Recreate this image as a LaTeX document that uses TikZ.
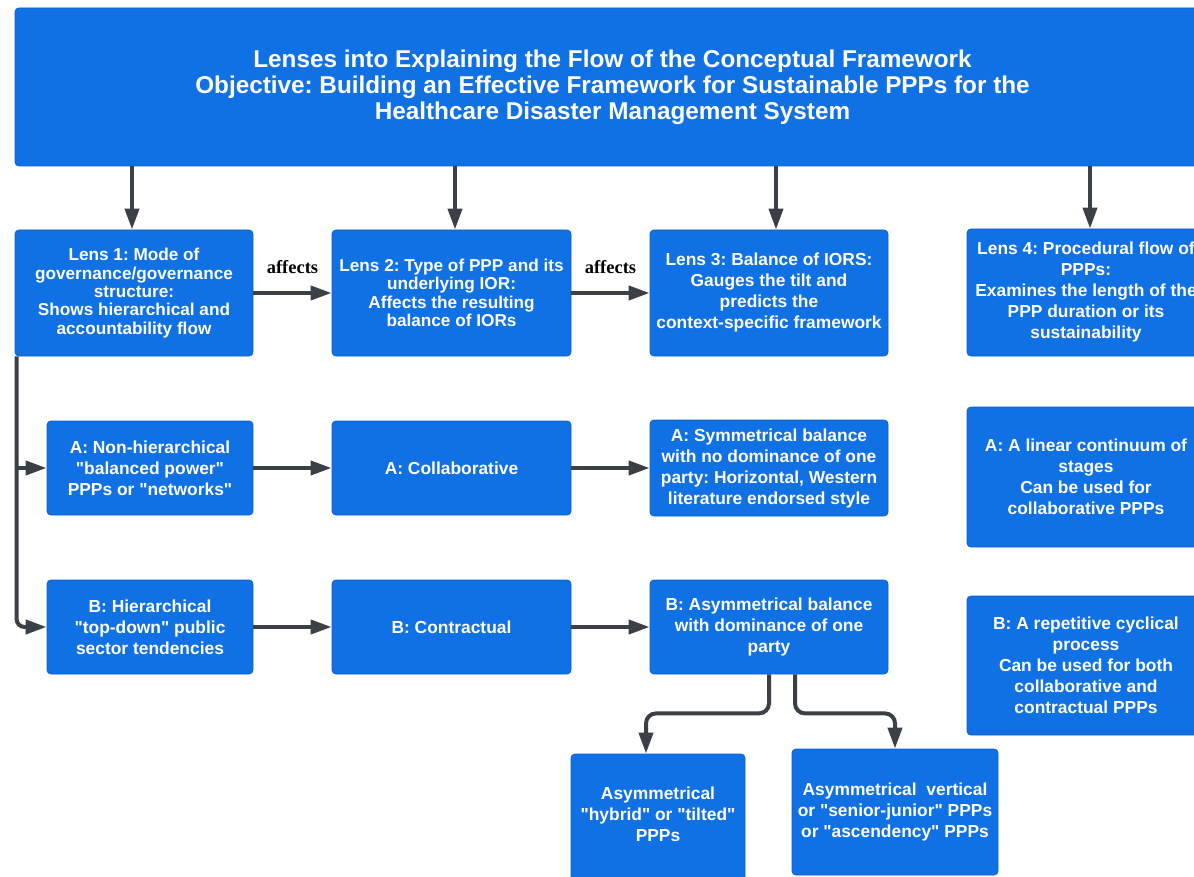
\documentclass[tikz,border=0pt]{standalone}
\usepackage{fontspec}
\setmainfont{Liberation Sans}[Ligatures=TeXOff]
\newfontfamily\affectsfont{Liberation Serif}
\usetikzlibrary{calc,arrows.meta}
\definecolor{boxblue}{HTML}{1071E5}
\definecolor{boxedge}{HTML}{0D5EC4}
\definecolor{linkgrey}{HTML}{3B3F46}
\frenchspacing
\tikzset{
  box/.style={draw=boxedge, line width=0.8pt, fill=boxblue, rounded corners=4pt,
    text=white, align=center, inner sep=2pt,
    font=\frenchspacing\bfseries\fontsize{17.4}{21}\selectfont},
  tightbox/.style={box, font=\frenchspacing\bfseries\fontsize{17.2}{18.4}\selectfont},
  titlebox/.style={box, font=\frenchspacing\bfseries\fontsize{24.3}{26}\selectfont},
  conn/.style={draw=linkgrey, line width=4pt,
    -{Triangle[length=21pt,width=14pt]}},
  affectslabel/.style={font=\affectsfont\bfseries\fontsize{18.5}{20}\selectfont,
    text=black, inner sep=0pt}
}
\begin{document}
\begin{tikzpicture}[x=1pt,y=-1pt]
\useasboundingbox (0,0) rectangle (1194,877);
\clip (0,0) rectangle (1194,877);
\fill[white] (0,0) rectangle (1194,877);

% title banner
\node[titlebox, minimum width=1195pt, minimum height=158pt] (T) at (612.5,87)
  {Lenses into Explaining the Flow of the Conceptual Framework\\
   Objective: Building an Effective Framework for Sustainable PPPs for the\\
   Healthcare Disaster Management System};

% the four lenses
\node[tightbox, minimum width=238pt, minimum height=126pt] (L1) at (134,293)
  {Lens 1: Mode of\\governance/governance\\structure:\\Shows hierarchical and\\accountability flow};
\node[tightbox, minimum width=239pt, minimum height=126pt] (L2) at (451.5,293)
  {Lens 2: Type of PPP and its\\underlying IOR:\\Affects the resulting\\balance of IORs};
\node[box, minimum width=238pt, minimum height=126pt] (L3) at (769,293)
  {Lens 3: Balance of IORS:\\Gauges the tilt and\\predicts the\\context-specific framework};
\node[box, minimum width=238pt, minimum height=127pt] (L4) at (1086,292.5)
  {Lens 4: Procedural flow of\\PPPs:\\Examines the length of the\\PPP duration or its\\sustainability};

% row A
\node[box, minimum width=206pt, minimum height=94pt] (A1) at (150,468)
  {A: Non-hierarchical\\"balanced power"\\PPPs or "networks"};
\node[box, minimum width=239pt, minimum height=94pt] (A2) at (451.5,468)
  {A: Collaborative};
\node[box, minimum width=238pt, minimum height=96pt] (A3) at (769,468)
  {A: Symmetrical balance\\with no dominance of one\\party: Horizontal, Western\\literature endorsed style};
\node[box, minimum width=238pt, minimum height=140pt] (A4) at (1086,477)
  {A: A linear continuum of\\stages\\Can be used for\\collaborative PPPs};

% row B
\node[box, minimum width=206pt, minimum height=94pt] (B1) at (150,627)
  {B: Hierarchical\\"top-down" public\\sector tendencies};
\node[box, minimum width=239pt, minimum height=94pt] (B2) at (451.5,627)
  {B: Contractual};
\node[box, minimum width=238pt, minimum height=94pt] (B3) at (769,627)
  {B: Asymmetrical balance\\with dominance of one\\party};
\node[box, minimum width=238pt, minimum height=139pt] (B4) at (1086,665.5)
  {B: A repetitive cyclical\\process\\Can be used for both\\collaborative and\\contractual PPPs};

% asymmetrical variants
\node[box, minimum width=174pt, minimum height=128pt] (C1) at (658,818)
  {Asymmetrical\\"hybrid" or "tilted"\\PPPs\\[-13pt]\mbox{}};
\node[box, minimum width=206pt, minimum height=126pt] (C2) at (895,812)
  {Asymmetrical\ \ vertical\\or "senior-junior" PPPs\\or "ascendency" PPPs};

% banner to lenses
\coordinate (t1) at ($(L1.north)+(-2,0)$);
\coordinate (t2) at ($(L2.north)+(3.5,0)$);
\coordinate (t3) at ($(L3.north)+(7,0)$);
\coordinate (t4) at ($(L4.north)+(4,0)$);
\foreach \k in {1,...,4} { \draw[conn] (t\k |- T.south) -- (t\k); }

% lens chain
\draw[conn] (L1.east) -- node[affectslabel, midway, yshift=26pt]{affects} (L2.west);
\draw[conn] (L2.east) -- node[affectslabel, midway, yshift=26pt]{affects} (L3.west);

% row chains
\draw[conn] (A1.east) -- (A2.west);
\draw[conn] (A2.east) -- (A3.west);
\draw[conn] (B1.east) -- (B2.west);
\draw[conn] (B2.east) -- (B3.west);

% governance trunk
\coordinate (trunk) at ($(L1.south west)+(2,0)$);
\draw[conn, rounded corners=8pt] (trunk) |- (B1.west);
\draw[conn] (trunk |- A1.west) -- (A1.west);

% split of the asymmetrical balance
\coordinate (sL) at ($(B3.south)+(0,0)$);
\coordinate (sR) at ($(B3.south)+(26,0)$);
\coordinate (eL) at ($(C1.north)+(-12,0)$);
\draw[conn, rounded corners=10pt] (sL) -- ($(sL)+(0,39)$) -| (eL);
\draw[conn, rounded corners=10pt] (sR) -- ($(sR)+(0,39)$) -| (C2.north);
\end{tikzpicture}
\end{document}
